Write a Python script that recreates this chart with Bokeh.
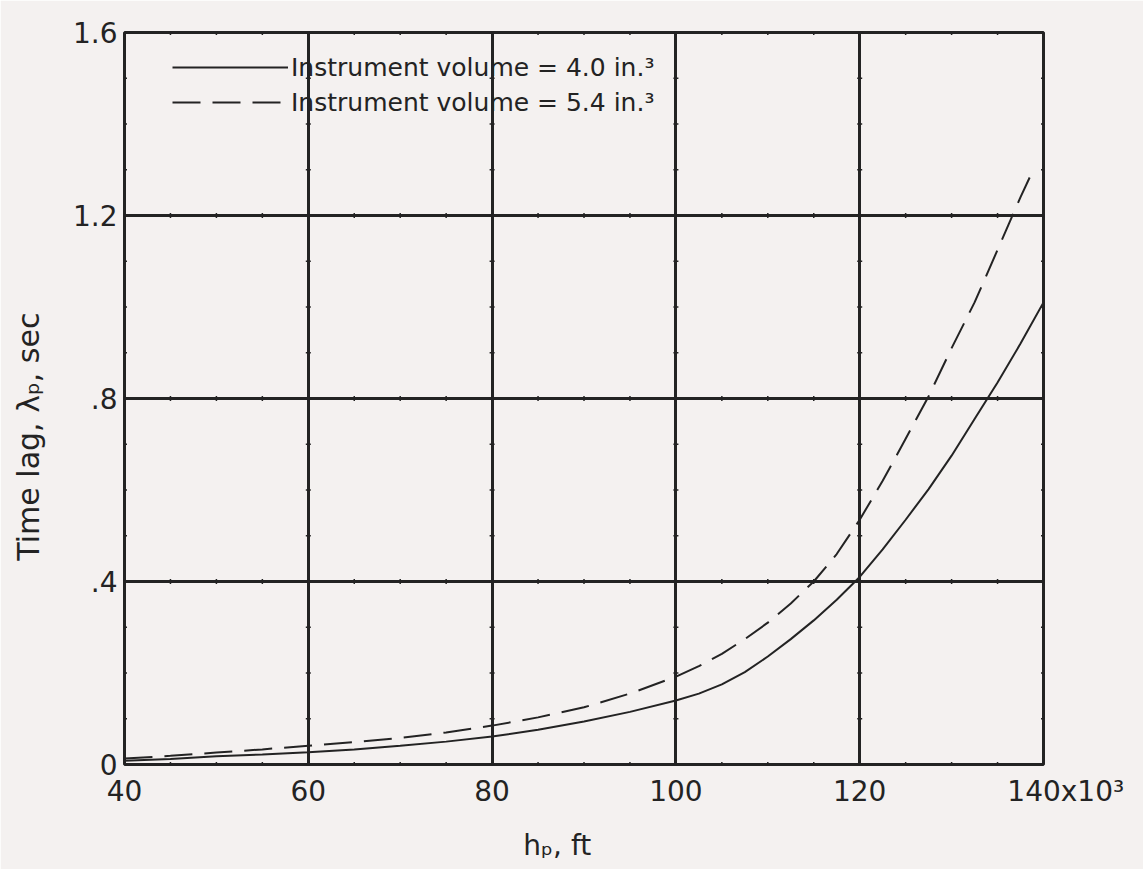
import math
from bokeh.plotting import figure
from bokeh.models import Range1d, FixedTicker, Legend, LegendItem
from bokeh.embed import file_html
from bokeh.resources import INLINE

# ---- data ----
altitude_k = [40, 45, 50, 55, 60, 65, 70, 75, 80, 85, 90, 95, 100, 102.5, 105, 107.5, 110, 112.5,
              115, 117.5, 120, 122.5, 125, 127.5, 130, 132.5, 135, 137.5, 140]
lag_vol_40 = [0.008, 0.012, 0.018, 0.022, 0.027, 0.033, 0.041, 0.050, 0.061, 0.076, 0.094, 0.115,
              0.140, 0.155, 0.175, 0.202, 0.236, 0.274, 0.315, 0.360, 0.410, 0.470, 0.535, 0.602,
              0.675, 0.755, 0.835, 0.920, 1.010]
altitude_k_54 = [40, 45, 50, 55, 60, 65, 70, 75, 80, 85, 90, 95, 100, 102.5, 105, 107.5, 110, 112.5,
                 115, 117.5, 120, 122.5, 125, 127.5, 130, 132.5, 135, 137.5, 139]
lag_vol_54 = [0.013, 0.019, 0.026, 0.033, 0.041, 0.049, 0.058, 0.070, 0.085, 0.103, 0.125, 0.155,
              0.192, 0.215, 0.242, 0.274, 0.310, 0.352, 0.400, 0.460, 0.535, 0.620, 0.712, 0.805,
              0.910, 1.010, 1.125, 1.240, 1.305]

x_ticks = [40, 60, 80, 100, 120, 140]
x_tick_labels = ["40", "60", "80", "100", "120", "140x10\u00b3"]
y_ticks = [0, 0.4, 0.8, 1.2, 1.6]
y_tick_labels = ["0", ".4", ".8", "1.2", "1.6"]
x_minor_step = 5
y_minor_step = 0.1

series_labels = ["Instrument volume = 4.0 in.\u00b3", "Instrument volume = 5.4 in.\u00b3"]
x_title = "h\u209a, ft"
y_title = "Time lag, \u03bb\u209a, sec"

INK = "#232323"
PAPER = "#f4f1f0"
FONT = "DejaVu Sans"
NBSP = "\u00a0"

W, H = 1143, 869
FL, FT, FW, FH = 124, 32, 919, 732

p = figure(width=W, height=H, frame_width=FW, frame_height=FH,
           x_range=Range1d(x_ticks[0], x_ticks[-1]), y_range=Range1d(y_ticks[0], y_ticks[-1]),
           output_backend="svg", toolbar_location=None,
           min_border_left=FL, min_border_top=FT,
           min_border_right=W - FL - FW, min_border_bottom=H - FT - FH)
p.background_fill_color = PAPER
p.border_fill_color = PAPER
p.outline_line_color = INK
p.outline_line_width = 3

for ax in (p.xaxis[0], p.yaxis[0]):
    ax.axis_line_color = None
    ax.major_tick_in = 0
    ax.major_tick_out = 0
    ax.minor_tick_in = 0
    ax.minor_tick_out = 0
    ax.major_label_text_font = FONT
    ax.major_label_text_font_size = "28px"
    ax.major_label_text_color = INK
    ax.axis_label_text_font = FONT
    ax.axis_label_text_font_style = "normal"
    ax.axis_label_text_color = INK
p.xaxis[0].major_label_standoff = 10
p.yaxis[0].major_label_standoff = 7

p.xaxis[0].ticker = FixedTicker(ticks=x_ticks)
p.yaxis[0].ticker = FixedTicker(ticks=y_ticks)
# the last x label carries the x10^3 multiplier; leading no-break spaces push it right of its grid line
x_overrides = {t: l for t, l in zip(x_ticks, x_tick_labels)}
x_overrides[x_ticks[-1]] = NBSP * 5 + x_tick_labels[-1]
p.xaxis[0].major_label_overrides = x_overrides
p.yaxis[0].major_label_overrides = {t: l for t, l in zip(y_ticks, y_tick_labels)}

# axis titles (no-break spaces shift them off-centre as in the original)
p.xaxis[0].axis_label = x_title + NBSP * 6
p.xaxis[0].axis_label_text_font_size = "28px"
p.xaxis[0].axis_label_standoff = 18
p.yaxis[0].axis_label = y_title + NBSP * 8
p.yaxis[0].axis_label_text_font_size = "30px"
p.yaxis[0].axis_label_standoff = 24

p.xgrid[0].ticker = FixedTicker(ticks=x_ticks)
p.ygrid[0].ticker = FixedTicker(ticks=y_ticks)
for g in (p.xgrid[0], p.ygrid[0]):
    g.grid_line_color = INK
    g.grid_line_width = 3
    g.grid_line_alpha = 1.0

# small tick crosses along grid lines
n_y_minor = int(round((y_ticks[-1] - y_ticks[0]) / y_minor_step))
n_x_minor = int(round((x_ticks[-1] - x_ticks[0]) / x_minor_step))
vx, vy = [], []
for gx in x_ticks:
    for k in range(n_y_minor + 1):
        vx.append(gx)
        vy.append(y_ticks[0] + k * y_minor_step)
hx, hy = [], []
for gy in y_ticks:
    for k in range(n_x_minor + 1):
        hx.append(x_ticks[0] + k * x_minor_step)
        hy.append(gy)
p.scatter(vx, vy, marker="dash", size=5, line_color=INK, line_width=1.5)
p.scatter(hx, hy, marker="dash", size=5, angle=math.pi / 2, line_color=INK, line_width=1.5)

r1 = p.line(altitude_k, lag_vol_40, line_color=INK, line_width=2)
r2 = p.line(altitude_k_54, lag_vol_54, line_color=INK, line_width=2, line_dash="28 12")

legend = Legend(items=[LegendItem(label=series_labels[0], renderers=[r1]),
                       LegendItem(label=series_labels[1], renderers=[r2])],
                location=(48, 645), orientation="vertical",
                glyph_width=116, glyph_height=34, label_height=34, label_standoff=3,
                spacing=1, padding=0, margin=0,
                label_text_font=FONT, label_text_font_size="25px", label_text_color=INK,
                background_fill_alpha=0, border_line_color=None)
p.add_layout(legend)

open("out.html", "w").write(file_html(p, INLINE))
